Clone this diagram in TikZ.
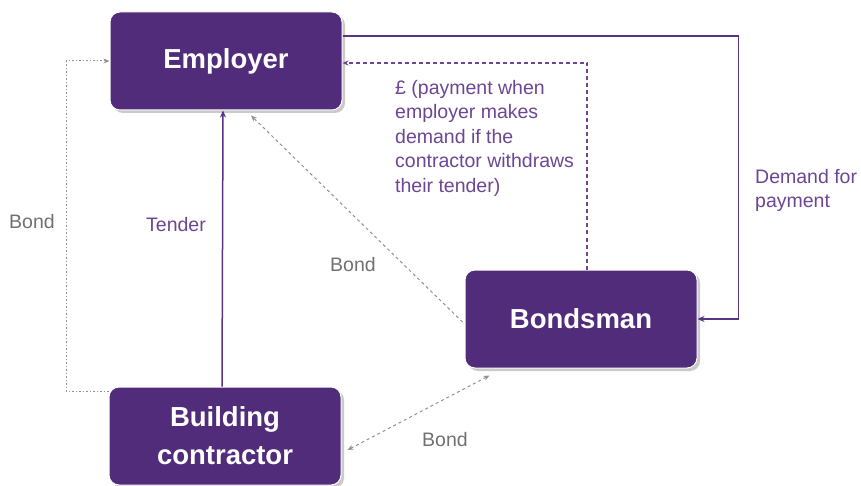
\documentclass[tikz,border=0pt]{standalone}
\usepackage{fontspec}
\setmainfont{Liberation Sans}
\usetikzlibrary{arrows.meta,shadows,calc}
\definecolor{boxpurple}{RGB}{80,44,122}
\definecolor{linepurple}{RGB}{88,52,132}
\definecolor{txtpurple}{RGB}{108,70,148}
\definecolor{txtgray}{RGB}{112,112,112}
\definecolor{linegray}{RGB}{145,145,145}
\tikzset{
  party/.style={draw=white, line width=1pt, fill=boxpurple, rounded corners=10pt,
    minimum width=232pt, minimum height=98pt, text=white, align=center,
    font=\bfseries\fontsize{27.5}{38}\selectfont,
    drop shadow={shadow xshift=3pt, shadow yshift=-3pt, opacity=0.35, fill=black!60}},
  solidarrow/.style={draw=linepurple, line width=1.5pt, -{Stealth[length=7pt,width=6pt]}},
  purpledash/.style={draw=txtpurple, line width=1.1pt, dash pattern=on 4pt off 3pt, -{Stealth[length=6pt,width=5pt]}},
  graydash/.style={draw=linegray, line width=1pt, dash pattern=on 3pt off 3pt, -{Stealth[length=6pt,width=5pt]}},
  graydot/.style={draw=linegray, line width=1pt, dash pattern=on 1.5pt off 2pt, -{Stealth[length=6pt,width=5pt]}},
  lab/.style={font=\fontsize{19.5}{24.5}\selectfont, inner sep=0pt},
}
\begin{document}
\begin{tikzpicture}[x=1pt,y=-1pt]
\useasboundingbox (0,0) rectangle (861,486);
\node[party] (emp) at (226,61) {Employer};
\node[party] (bond) at (581,319) {Bondsman};
\node[party] (bc) at (225,436) {Building\\contractor};

% demand for payment
\draw[solidarrow] ([yshift=25pt]emp.east) -| ++(396,0) coordinate (corner) |- (bond.east);
% tender
\draw[solidarrow] ([xshift=-3pt]bc.north) -- ([xshift=-3pt]emp.south);
% payment dashed
\draw[purpledash] ([xshift=6pt]bond.north) |- ([yshift=-2pt]emp.east);
% left bond dotted
\draw[graydot] ([yshift=-5pt]bc.north west) -- ++(-42,0) |- (emp.west);
% diagonal bond
\draw[graydash] ([xshift=-2pt,yshift=-3pt]bond.west) -- ([xshift=25pt,yshift=-5pt]emp.south);
% bottom bond
\draw[graydash, {Stealth[length=6pt,width=5pt]}-{Stealth[length=6pt,width=5pt]}] ([xshift=25pt,yshift=-7pt]bond.south west) -- ([xshift=6pt,yshift=-14pt]bc.east);

\node[lab, text=txtpurple, anchor=north west, align=left] (paytxt) at (395,80) {£ (payment when\\employer makes\\demand if the\\contractor withdraws\\their tender)};
\node[lab, text=txtpurple, anchor=north west, align=left] (demtxt) at (755,169) {Demand for\\payment};
\node[lab, text=txtpurple] (tendtxt) at (176,225) {Tender};
\node[lab, text=txtgray] (b1) at (32,222) {Bond};
\node[lab, text=txtgray] (b2) at (353,265) {Bond};
\node[lab, text=txtgray] (b3) at (445,440) {Bond};
\end{tikzpicture}
\end{document}
